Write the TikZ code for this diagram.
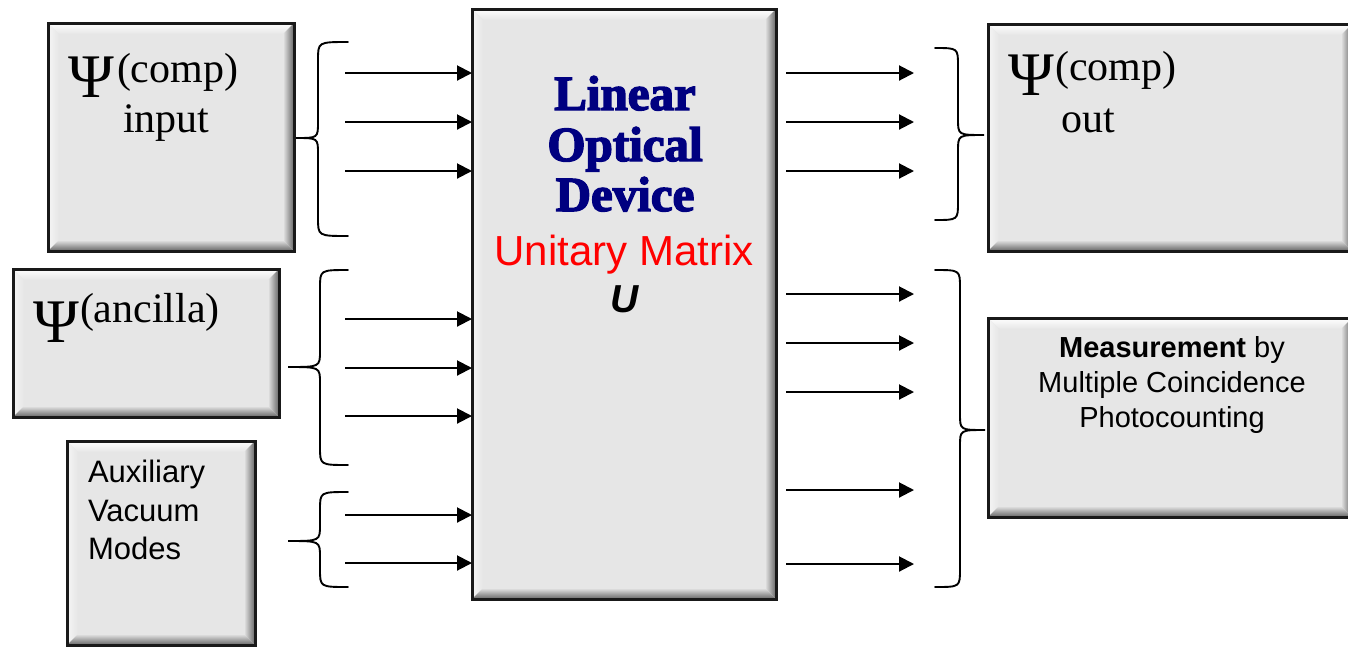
\documentclass[tikz,border=0pt]{standalone}
\usepackage{fontspec}
\setmainfont{Liberation Serif}
\setsansfont{Liberation Sans}
\newfontfamily\heavyserif{Liberation Serif}[BoldFeatures={FakeBold=3}]
\usetikzlibrary{arrows.meta}
\definecolor{boxgray}{RGB}{230,230,230}
\definecolor{navytext}{RGB}{0,0,128}
\definecolor{bevdark}{RGB}{100,100,100}
\tikzset{
  bevel/.style={fill=boxgray, draw=black!90, line width=3pt, inner sep=0pt, outer sep=0pt,
    path picture={
      \path (path picture bounding box.north west) coordinate (bNW)
            (path picture bounding box.north east) coordinate (bNE)
            (path picture bounding box.south west) coordinate (bSW)
            (path picture bounding box.south east) coordinate (bSE);
      \shade[top color=white, bottom color=boxgray] (bNW) -- (bNE) -- ([shift={(-11pt,-11pt)}]bNE) -- ([shift={(11pt,-11pt)}]bNW) -- cycle;
      \shade[left color=white!60!boxgray, right color=boxgray] (bNW) -- ([shift={(11pt,-11pt)}]bNW) -- ([shift={(11pt,11pt)}]bSW) -- (bSW) -- cycle;
      \shade[left color=boxgray, right color=bevdark] (bNE) -- (bSE) -- ([shift={(-11pt,11pt)}]bSE) -- ([shift={(-11pt,-11pt)}]bNE) -- cycle;
      \shade[top color=boxgray, bottom color=bevdark] (bSW) -- (bSE) -- ([shift={(-11pt,11pt)}]bSE) -- ([shift={(11pt,11pt)}]bSW) -- cycle;
    }},
  arr/.style={line width=2pt, -{Triangle[length=15pt,width=15pt]}},
  brace/.style={line width=1.9pt, line cap=round},
  txt/.style={inner sep=0pt, outer sep=0pt},
  serifbig/.style={txt, font=\fontsize{42}{48}\selectfont},
  psi/.style={txt, font=\fontsize{62}{70}\selectfont},
  sanstxt/.style={txt, font=\sffamily\fontsize{31}{38}\selectfont},
  meastxt/.style={txt, font=\sffamily\fontsize{29}{35}\selectfont},
  heavytxt/.style={txt, anchor=base, text=navytext, font=\heavyserif\bfseries\fontsize{49}{50}\selectfont},
}
\newcommand\braceshape[6]{% end x, spine x, tip x, top y, bottom y, tip y
  \draw[brace] (#1,#4) .. controls (#2,#4) .. (#2,#4+18) -- (#2,#6-16)
    .. controls (#2,#6) .. (#3,#6) .. controls (#2,#6) .. (#2,#6+16)
    -- (#2,#5-18) .. controls (#2,#5) .. (#1,#5);}
\begin{document}
\begin{tikzpicture}[x=1pt,y=-1pt]
\useasboundingbox (0,0) rectangle (1348,649);
% boxes
\node[bevel, minimum width=246pt, minimum height=228pt] (cin) at (171,137) {};
\node[bevel, minimum width=266pt, minimum height=148pt] (anc) at (146,343) {};
\node[bevel, minimum width=188pt, minimum height=204pt] (aux) at (161,543) {};
\node[bevel, minimum width=304pt, minimum height=590pt] (lod) at (624,304) {};
\node[bevel, minimum width=364pt, minimum height=227pt] (cout) at (1170,137.5) {};
\node[bevel, minimum width=364pt, minimum height=199pt] (meas) at (1170,417.5) {};
% texts
\node[psi, anchor=base west] (psi1) at (68,97) {Ψ};
\node[serifbig, anchor=base west] (t1) at (117,82) {(comp)};
\node[serifbig, anchor=base west] (t2) at (123,132) {input};
\node[psi, anchor=base west] (psi2) at (33,342) {Ψ};
\node[serifbig, anchor=base west] (t3) at (80,322) {(ancilla)};
\node[psi, anchor=base west] (psi3) at (1008,95) {Ψ};
\node[serifbig, anchor=base west] (t4) at (1055,80) {(comp)};
\node[serifbig, anchor=base west] (t5) at (1061,132) {out};
\node[sanstxt, anchor=base west] (a1) at (88,482) {Auxiliary};
\node[sanstxt, anchor=base west] (a2) at (88,521) {Vacuum};
\node[sanstxt, anchor=base west] (a3) at (88,559) {Modes};
\node[heavytxt] (l1) at (625,110) {Linear};
\node[heavytxt] (l2) at (625,161) {Optical};
\node[heavytxt] (l3) at (625,211) {Device};
\node[txt, anchor=base, text=red, font=\sffamily\fontsize{42}{48}\selectfont] (l4) at (624,265) {Unitary Matrix};
\node[txt, anchor=base, font=\sffamily\bfseries\itshape\fontsize{39}{44}\selectfont] (l5) at (625,312) {U};
\node[meastxt, anchor=base] (m1) at (1172,357) {\textbf{Measurement} by};
\node[meastxt, anchor=base] (m2) at (1172,392) {Multiple Coincidence};
\node[meastxt, anchor=base] (m3) at (1172,427) {Photocounting};
% input arrows
\foreach \n/\yy in {1/73,2/122,3/171,4/319,5/368,6/416,7/515,8/563}{
  \coordinate (i\n) at (345,\yy);
  \draw[arr] (i\n) -- (i\n -| lod.west);
}
% output arrows
\foreach \n/\yy in {1/73,2/122,3/171,4/294,5/343,6/392,7/490,8/564}{
  \coordinate (o\n) at (914,\yy);
  \draw[arr, shorten <=10pt] (lod.east |- o\n) -- (o\n);
}
% braces
\braceshape{348}{318}{296}{42}{236}{138}
\braceshape{348}{320}{288}{270}{465}{367}
\braceshape{348}{320}{288}{492}{587}{541}
\braceshape{935}{958}{984}{48}{220}{135}
\braceshape{935}{960}{985}{270}{587}{430}
\end{tikzpicture}
\end{document}
